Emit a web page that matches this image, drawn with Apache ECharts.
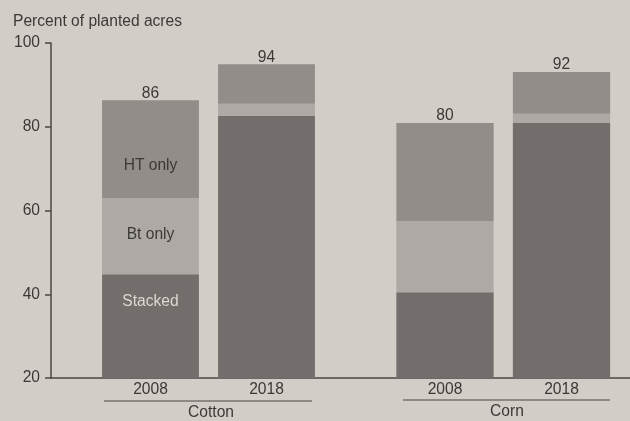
<!DOCTYPE html>
<html><head><meta charset="utf-8">
<script src="https://cdn.jsdelivr.net/npm/echarts@6/dist/echarts.min.js"></script>
<style>html,body{margin:0;padding:0;background:#d2cdc7}#c{width:630px;height:421px}</style>
</head><body><div id="c"></div>
<script>
const years = ['2008', '2018'];
const crops = ['Cotton', 'Corn'];
const segmentNames = ['Stacked', 'Bt only', 'HT only'];
const cottonStacked = [44.8, 82.6];
const cottonBt = [18.2, 2.9];
const cottonHT = [23.3, 9.4];
const cornStacked = [40.5, 80.9];
const cornBt = [17, 2.2];
const cornHT = [23.4, 10];
const cottonTotals = [86, 94];
const cornTotals = [80, 92];
const yTicks = [20, 40, 60, 80, 100];

const FONT = 'Liberation Sans, Arial, sans-serif';
const FS = 15.6;
const TXT = '#3b3937';
const AXIS = '#4a4745';
const colors = ['#736e6b', '#aea9a4', '#928d89'];
const GT = 43, GB = 43;
const BW = '83.5%';

const chart = echarts.init(document.getElementById('c'));
const yBase = {type:'value', min: yTicks[0], max: yTicks[yTicks.length-1], interval: 20};

function segLabel(name, offsetY, color){
  return {show:true, position:'insideTop', offset:[0, offsetY], formatter: name,
          color: color, fontFamily: FONT, fontSize: FS};
}
function makeSeries(gridIdx, vals3, totals, withLabels){
  const st = 's' + gridIdx;
  const offs = [15, 24, 52];
  const lblColors = ['#dcd8d3', TXT, TXT];
  const out = vals3.map((vals, i) => ({
    type:'bar', name: segmentNames[i], stack: st, xAxisIndex: gridIdx, yAxisIndex: gridIdx,
    barWidth: BW, itemStyle:{color: colors[i]}, silent:true,
    data: vals.map((v, j) => (withLabels && j === 0)
      ? {value: v, label: segLabel(segmentNames[i], offs[i], lblColors[i])}
      : {value: v})
  }));
  out.push({
    type:'bar', name:'Total', stack: st, xAxisIndex: gridIdx, yAxisIndex: gridIdx,
    barWidth: BW, itemStyle:{color:'rgba(0,0,0,0)'}, silent:true,
    label:{show:true, position:'top', distance: -1, color: TXT, fontFamily: FONT, fontSize: FS,
           formatter: p => String(totals[p.dataIndex])},
    data: totals.map(() => 0)
  });
  return out;
}

const series = [
  ...makeSeries(1, [cottonStacked, cottonBt, cottonHT], cottonTotals, true),
  ...makeSeries(2, [cornStacked, cornBt, cornHT], cornTotals, false)
];

const xCat = (gridIdx) => ({type:'category', gridIndex: gridIdx, data: years,
  axisLine:{show:false}, axisTick:{show:false},
  axisLabel:{color: TXT, fontFamily: FONT, fontSize: FS, margin: 4}});
const yHidden = (gridIdx) => Object.assign({}, yBase, {gridIndex: gridIdx, show:false, splitLine:{show:false}});

const option = {
  backgroundColor: '#d2cdc7',
  animation: false,
  grid: [
    {left: 51, right: 0, top: GT, bottom: GB},
    {left: 92.5, width: 232, top: GT, bottom: GB},
    {left: 386.75, width: 233, top: GT, bottom: GB}
  ],
  xAxis: [
    {type:'value', gridIndex:0, min:0, max:1, axisLabel:{show:false}, axisTick:{show:false}, splitLine:{show:false},
     axisLine:{show:true, onZero:false, lineStyle:{color: AXIS, width:1.5}}},
    xCat(1), xCat(2)
  ],
  yAxis: [
    Object.assign({}, yBase, {gridIndex:0, splitLine:{show:false},
      axisLine:{show:true, lineStyle:{color: AXIS, width:1.5}},
      axisTick:{show:true, length:6, lineStyle:{color: AXIS, width:1.5}},
      axisLabel:{color: TXT, fontFamily: FONT, fontSize: FS, margin: 11}}),
    yHidden(1), yHidden(2)
  ],
  graphic: [
    {type:'text', left: 13, top: 14, style:{text:'Percent of planted acres', fill: TXT, font: FS + 'px ' + FONT}},
    {type:'line', shape:{x1:104, y1:401, x2:312, y2:401}, style:{stroke: AXIS, lineWidth:1.2}},
    {type:'line', shape:{x1:403, y1:400, x2:610, y2:400}, style:{stroke: AXIS, lineWidth:1.2}},
    {type:'text', x: 211, y: 413, style:{text: crops[0], fill: TXT, font: FS + 'px ' + FONT, textAlign:'center', textVerticalAlign:'middle'}},
    {type:'text', x: 507, y: 412, style:{text: crops[1], fill: TXT, font: FS + 'px ' + FONT, textAlign:'center', textVerticalAlign:'middle'}}
  ],
  series: series
};
chart.setOption(option);
</script>
</body></html>
